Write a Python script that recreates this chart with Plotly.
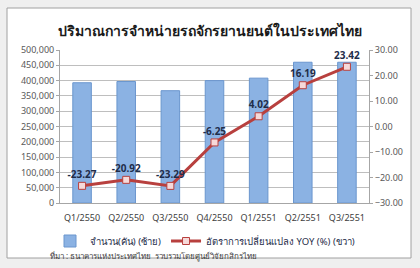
import plotly.graph_objects as go

categories = ["Q1/2550", "Q2/2550", "Q3/2550", "Q4/2550", "Q1/2551", "Q2/2551", "Q3/2551"]
units_sold = [393000, 397000, 367000, 400000, 408000, 460000, 460000]
yoy_change = [-23.27, -20.92, -23.29, -6.25, 4.02, 16.19, 23.42]
left_ticks = list(range(0, 500001, 50000))
right_ticks = list(range(-30, 31, 10))

title_text = "ปริมาณการจำหน่ายรถจักรยานยนต์ในประเทศไทย"
bar_name = "จำนวน(คัน) (ซ้าย)"
line_name = "อัตราการเปลี่ยนแปลง YOY (%) (ขวา)"
source_text = "ที่มา : ธนาคารแห่งประเทศไทย  รวบรวมโดยศูนย์วิจัยกสิกรไทย"

FONT = "Noto Sans, Tahoma, DejaVu Sans, sans-serif"

fig = go.Figure()
fig.add_trace(go.Bar(
    x=categories, y=units_sold, name=bar_name,
    marker=dict(color="#8BB2E3", line=dict(color="#6A96CE", width=1)),
    width=0.42, yaxis="y",
))
fig.add_trace(go.Scatter(
    x=categories, y=yoy_change, name=line_name, yaxis="y2",
    mode="lines+markers+text",
    line=dict(color="#B8403E", width=3),
    marker=dict(symbol="square", size=7, color="#F6D9D9", line=dict(color="#B8403E", width=1)),
    text=[f"<b>{v:.2f}</b>" for v in yoy_change], textposition="top center",
    textfont=dict(size=10, color="#1F2D4A"),
))

fig.update_layout(
    width=420, height=268,
    margin=dict(l=60, r=51, t=50, b=65),
    paper_bgcolor="#EFEFEF",
    plot_bgcolor="#EEEEEE",
    font=dict(family=FONT, size=10, color="#595959"),
    showlegend=True,
    legend=dict(orientation="h", x=(50 - 60) / 309, y=(203 - 241) / 153, xanchor="left", yanchor="middle",
                font=dict(size=9.5, color="#1F2D4A"), bgcolor="rgba(0,0,0,0)",
                itemwidth=30, tracegroupgap=0),
    bargap=0.5,
    xaxis=dict(showgrid=False, showline=True, linecolor="#A6A6A6",
               tickfont=dict(size=9, color="#404040"), ticks="", ticklabelstandoff=6),
    yaxis=dict(range=[0, 500000], tickvals=left_ticks, tickformat=",d",
               showgrid=True, gridcolor="#BEBEBE", gridwidth=1,
               showline=True, linecolor="#A6A6A6", ticks="outside", ticklen=3,
               tickcolor="#A6A6A6", tickfont=dict(size=9, color="#595959"), zeroline=False),
    yaxis2=dict(range=[-30, 30], tickvals=right_ticks, tickformat=".2f", overlaying="y",
                side="right", showgrid=False, zeroline=False, showline=True,
                linecolor="#A6A6A6", ticks="outside", ticklen=3, tickcolor="#A6A6A6",
                tickfont=dict(size=9, color="#595959")),
    shapes=[dict(type="rect", xref="paper", yref="paper", layer="below",
                 x0=-53/309, x1=(411 - 60) / 309, y0=-55/153, y1=(203 - 8) / 153,
                 fillcolor="white", line=dict(color="#A0A0A0", width=1))],
    annotations=[
        dict(text=f"<b>{title_text}</b>", xref="paper", yref="paper",
             x=(210 - 60) / 309, y=(203 - 30) / 153, xanchor="center", yanchor="middle",
             showarrow=False, font=dict(size=14, color="#1A1A1A")),
        dict(text=source_text, xref="paper", yref="paper",
             x=(48 - 60) / 309, y=(203 - 256) / 153, xanchor="left", yanchor="middle",
             showarrow=False, font=dict(size=8, color="#404040")),
    ],
)

fig.write_html("out.html")
